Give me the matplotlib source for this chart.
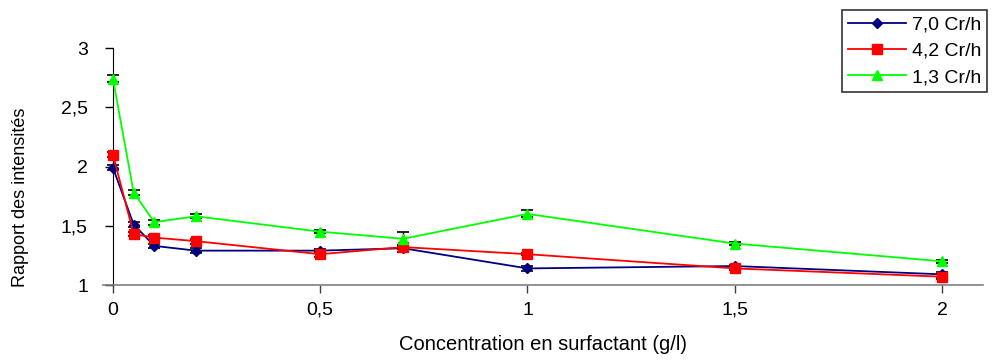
import matplotlib
matplotlib.use('Agg')
import matplotlib.pyplot as plt

plt.rcParams['font.family'] = ['Liberation Sans', 'DejaVu Sans']

concentration = [0, 0.05, 0.1, 0.2, 0.5, 0.7, 1.0, 1.5, 2.0]

ratio_70 = [1.99, 1.51, 1.33, 1.29, 1.29, 1.31, 1.14, 1.16, 1.09]
err_70 = [0.02, 0.02, 0.02, 0.02, 0.01, 0.03, 0.02, 0.01, 0.02]

ratio_42 = [2.10, 1.43, 1.40, 1.37, 1.26, 1.32, 1.26, 1.14, 1.07]
err_42 = [0.02, 0.02, 0.02, 0.02, 0.02, 0.02, 0.01, 0.01, 0.02]

ratio_13 = [2.74, 1.78, 1.53, 1.58, 1.45, 1.39, 1.60, 1.35, 1.20]
err_13 = [0.03, 0.02, 0.02, 0.015, 0.015, 0.06, 0.03, 0.015, 0.015]

series_labels = ['7,0 Cr/h', '4,2 Cr/h', '1,3 Cr/h']

xticks = [0, 0.5, 1, 1.5, 2]
xtick_labels = ['0', '0,5', '1', '1,5', '2']
yticks = [1, 1.5, 2, 2.5, 3]
ytick_labels = ['1', '1,5', '2', '2,5', '3']

fig = plt.figure(figsize=(9.97, 3.62), dpi=100)
ax = fig.add_axes([0.1033, 0.2127, 0.8827, 0.6547])

styles = [
    (ratio_70, err_70, '#000080', 'D', 5.5),
    (ratio_42, err_42, '#ff0000', 's', 6.5),
    (ratio_13, err_13, '#00ff00', '^', 7.5),
]
for (vals, errs, color, marker, size), label in zip(styles, series_labels):
    ax.errorbar(concentration, vals, yerr=errs, fmt='none', ecolor='black',
                elinewidth=1.0, capsize=4.5, capthick=1.2, zorder=2)
    ax.plot(concentration, vals, color=color, marker=marker, markersize=size,
            linewidth=1.3, label=label, zorder=3)

ax.set_xlim(-0.024, 2.099)
ax.set_ylim(1, 3)
ax.spines['top'].set_visible(False)
ax.spines['right'].set_visible(False)
ax.spines['left'].set_position(('data', 0))
ax.spines['left'].set_color('black')
ax.spines['bottom'].set_color('#808080')
ax.spines['bottom'].set_linewidth(1.2)

ax.set_xticks(xticks)
ax.set_xticklabels(xtick_labels)
ax.set_yticks(yticks)
ax.set_yticklabels(ytick_labels)
ax.tick_params(axis='both', labelsize=14, direction='out', length=6, width=1)
ax.tick_params(axis='x', color='#404040', pad=6)
ax.tick_params(axis='y', pad=12)

ax.set_xlabel('Concentration en surfactant (g/l)', fontsize=14.5, labelpad=12)
fig.text(0.021, 0.455, 'Rapport des intensités', rotation=90, fontsize=13,
         ha='center', va='center')

leg = ax.legend(loc='upper left', bbox_to_anchor=(0.8445, 0.972),
                bbox_transform=fig.transFigure, frameon=True, fancybox=False,
                fontsize=14, handlelength=3.0, handletextpad=0.3,
                borderpad=0.3, labelspacing=0.45, borderaxespad=0)
leg.get_frame().set_edgecolor('black')
leg.get_frame().set_linewidth(1.2)

fig.savefig('out.png', dpi=100)
